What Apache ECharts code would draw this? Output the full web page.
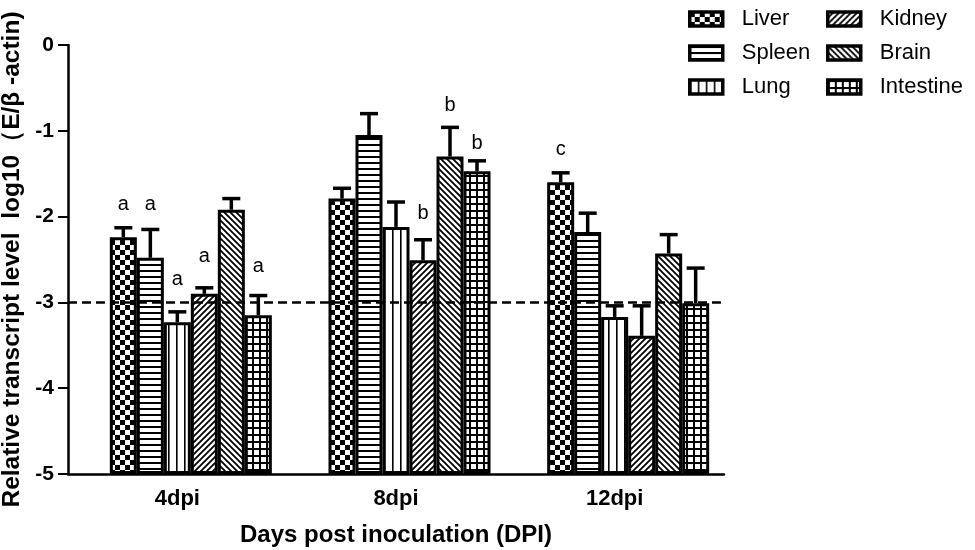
<!DOCTYPE html>
<html>
<head>
<meta charset="utf-8">
<script src="https://cdn.jsdelivr.net/npm/echarts@6/dist/echarts.min.js"></script>
<style>html,body{margin:0;padding:0;background:#fff;}#c{width:975px;height:550px;}</style>
</head>
<body>
<div id="c"></div>
<script>
// ---- data ----
const categories = ['4dpi', '8dpi', '12dpi'];
const seriesNames = ['Liver', 'Spleen', 'Lung', 'Kidney', 'Brain', 'Intestine'];
const liver = [-2.24, -1.79, -1.60];
const liverErr = [0.11, 0.12, 0.11];
const spleen = [-2.48, -1.05, -2.18];
const spleenErr = [0.33, 0.25, 0.22];
const lung = [-3.23, -2.12, -3.17];
const lungErr = [0.12, 0.29, 0.13];
const kidney = [-2.90, -2.51, -3.39];
const kidneyErr = [0.07, 0.24, 0.35];
const brain = [-1.92, -1.30, -2.43];
const brainErr = [0.13, 0.34, 0.22];
const intestine = [-3.15, -1.47, -3.01];
const intestineErr = [0.23, 0.12, 0.41];
// significance letters and their heights
const liverSig = ['a', null, 'c'];
const liverSigY = [-1.86, null, -1.22];
const spleenSig = ['a', null, null];
const spleenSigY = [-1.86, null, null];
const lungSig = ['a', null, null];
const lungSigY = [-2.73, null, null];
const kidneySig = ['a', 'b', null];
const kidneySigY = [-2.47, -1.96, null];
const brainSig = [null, 'b', null];
const brainSigY = [null, -0.71, null];
const intestineSig = ['a', 'b', null];
const intestineSigY = [-2.58, -1.15, null];
const yTicks = [0, -1, -2, -3, -4, -5];
const refLine = -3;

const values = [liver, spleen, lung, kidney, brain, intestine];
const errs = [liverErr, spleenErr, lungErr, kidneyErr, brainErr, intestineErr];
const sigs = [liverSig, spleenSig, lungSig, kidneySig, brainSig, intestineSig];
const sigYs = [liverSigY, spleenSigY, lungSigY, kidneySigY, brainSigY, intestineSigY];

// ---- style ----
const FONT = 'Liberation Sans, Arial, sans-serif';
const BAR_W = 27;

function makePattern(kind) {
  const c = document.createElement('canvas');
  let s = 10;
  if (kind === 'checker') s = 10;
  else if (kind === 'h') s = 6;
  else if (kind === 'v') s = 8;
  else if (kind === 'up' || kind === 'down') s = 6;
  else if (kind === 'grid') s = 7;
  c.width = s; c.height = s;
  const ctx = c.getContext('2d');
  ctx.fillStyle = '#fff';
  ctx.fillRect(0, 0, s, s);
  ctx.fillStyle = '#000';
  ctx.strokeStyle = '#000';
  if (kind === 'checker') {
    ctx.fillRect(0, 0, 5, 5);
    ctx.fillRect(5, 5, 5, 5);
  } else if (kind === 'h') {
    ctx.fillRect(0, 0, s, 2);
  } else if (kind === 'v') {
    ctx.fillRect(0, 0, 1.6, s);
  } else if (kind === 'grid') {
    ctx.fillRect(0, 0, s, 2);
    ctx.fillRect(0, 0, 2, s);
  } else {
    ctx.lineWidth = 1.8;
    ctx.beginPath();
    if (kind === 'up') {
      ctx.moveTo(-1, s + 1); ctx.lineTo(s + 1, -1);
      ctx.moveTo(-1, 1); ctx.lineTo(1, -1);
      ctx.moveTo(s - 1, s + 1); ctx.lineTo(s + 1, s - 1);
    } else {
      ctx.moveTo(-1, -1); ctx.lineTo(s + 1, s + 1);
      ctx.moveTo(s - 1, -1); ctx.lineTo(s + 1, 1);
      ctx.moveTo(-1, s - 1); ctx.lineTo(1, s + 1);
    }
    ctx.stroke();
  }
  return { image: c, repeat: 'repeat' };
}
const patterns = ['checker', 'h', 'v', 'up', 'down', 'grid'].map(makePattern);

const series = [];
// empty leading slot (GraphPad style offset of bar groups)
series.push({ type: 'bar', name: '_pad', data: categories.map(() => '-'), barWidth: BAR_W, silent: true });
seriesNames.forEach((n, i) => {
  series.push({
    type: 'bar', name: n, data: values[i], barWidth: BAR_W, barGap: '0%',
    itemStyle: { color: patterns[i], borderColor: '#000', borderWidth: 3 },
    silent: true,
    markLine: i === 0 ? {
      silent: true, symbol: 'none', label: { show: false },
      lineStyle: { color: '#000', width: 2.5, type: [9, 5] },
      data: [{ yAxis: refLine }]
    } : undefined
  });
});

const errData = [];
seriesNames.forEach((n, i) => categories.forEach((c, j) => errData.push([j, i, values[i][j], errs[i][j]])));
series.push({
  type: 'custom', name: 'err', silent: true, z: 5,
  data: errData, encode: { x: 0, y: 2 },
  renderItem: function (params, api) {
    const cat = api.value(0), si = api.value(1), v = api.value(2), e = api.value(3);
    const b = api.coord([cat, v]);
    const t = api.coord([cat, v + e]);
    const x = b[0] + (si - 2) * BAR_W;
    return {
      type: 'group', children: [
        { type: 'line', shape: { x1: x, y1: b[1], x2: x, y2: t[1] }, style: { stroke: '#000', lineWidth: 3.5 } },
        { type: 'line', shape: { x1: x - 9, y1: t[1], x2: x + 9, y2: t[1] }, style: { stroke: '#000', lineWidth: 3.5 } }
      ]
    };
  }
});

const sigData = [], sigText = [];
seriesNames.forEach((n, i) => categories.forEach((c, j) => {
  if (sigs[i][j]) { sigData.push([j, i, sigYs[i][j]]); sigText.push(sigs[i][j]); }
}));
series.push({
  type: 'custom', name: 'sig', silent: true, z: 6,
  data: sigData, encode: { x: 0, y: 2 },
  renderItem: function (params, api) {
    const cat = api.value(0), si = api.value(1), y = api.value(2);
    const p = api.coord([cat, y]);
    return {
      type: 'text',
      style: {
        text: sigText[params.dataIndex], x: p[0] + (si - 2) * BAR_W, y: p[1],
        textAlign: 'center', textVerticalAlign: 'middle',
        font: '20px ' + FONT, fill: '#000'
      }
    };
  }
});

const legendBase = {
  orient: 'vertical', top: 8, padding: 0, icon: 'rect',
  itemWidth: 33, itemHeight: 14, itemGap: 12,
  itemStyle: { borderColor: '#000', borderWidth: 3.5 },
  textStyle: { fontSize: 22, fontFamily: FONT, color: '#000', lineHeight: 22, padding: [0, 0, 0, 14] },
  selectedMode: false
};

const option = {
  animation: false,
  backgroundColor: '#fff',
  textStyle: { fontFamily: FONT },
  legend: [
    Object.assign({}, legendBase, { left: 688, data: seriesNames.slice(0, 3) }),
    Object.assign({}, legendBase, { left: 826, data: seriesNames.slice(3) })
  ],
  grid: { left: 68, right: 251, top: 45, bottom: 76, containLabel: false, outerBoundsMode: 'none' },
  xAxis: {
    type: 'category', data: categories,
    axisLine: { onZero: false, lineStyle: { color: '#000', width: 2.5 } },
    axisTick: { alignWithLabel: true, length: 9, lineStyle: { color: '#000', width: 2 } },
    axisLabel: { color: '#000', fontWeight: 'bold', fontSize: 22, fontFamily: FONT, margin: 14 },
    name: 'Days post inoculation (DPI)', nameLocation: 'middle', nameGap: 49,
    nameTextStyle: { color: '#000', fontWeight: 'bold', fontSize: 24, fontFamily: FONT }
  },
  yAxis: {
    type: 'value', min: yTicks[yTicks.length - 1], max: yTicks[0], interval: 1, startValue: yTicks[yTicks.length - 1],
    axisLine: { show: true, lineStyle: { color: '#000', width: 2.5 } },
    axisTick: { show: true, length: 10, lineStyle: { color: '#000', width: 2 } },
    axisLabel: { color: '#000', fontWeight: 'bold', fontSize: 21, fontFamily: FONT, margin: 14 },
    splitLine: { show: false },
    name: 'Relative transcript level  log10（E/β -actin)', nameLocation: 'middle', nameGap: 36, nameRotate: 90,
    nameTextStyle: { color: '#000', fontWeight: 'bold', fontSize: 24.5, fontFamily: FONT }
  },
  series: series
};

const chart = echarts.init(document.getElementById('c'), null, { renderer: 'canvas' });
chart.setOption(option);
</script>
</body>
</html>
